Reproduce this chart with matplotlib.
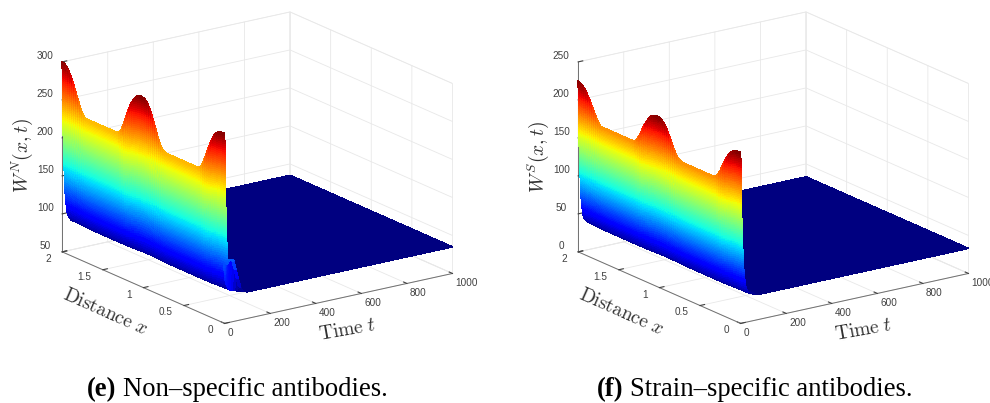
#!/usr/bin/env python
# coding: utf-8

import numpy as np
import matplotlib
matplotlib.use('Agg')
import matplotlib.pyplot as plt
from matplotlib.patches import Rectangle
from mpl_toolkits.mplot3d import Axes3D  # noqa: F401

plt.rcParams['font.family'] = ['Liberation Sans', 'DejaVu Sans']
plt.rcParams['mathtext.fontset'] = 'cm'
plt.rcParams['grid.color'] = '#e8e8e8'
plt.rcParams['grid.linewidth'] = 0.6
plt.rcParams['axes.linewidth'] = 0.6

# 空间节点 x (0 -> 2)
x_nodes = [0.000, 0.025, 0.050, 0.075, 0.100, 0.125, 0.150, 0.175, 0.200, 0.225, 0.250, 0.275,
           0.300, 0.325, 0.350, 0.375, 0.400, 0.425, 0.450, 0.475, 0.500, 0.525, 0.550, 0.575,
           0.600, 0.625, 0.650, 0.675, 0.700, 0.725, 0.750, 0.775, 0.800, 0.825, 0.850, 0.875,
           0.900, 0.925, 0.950, 0.975, 1.000, 1.025, 1.050, 1.075, 1.100, 1.125, 1.150, 1.175,
           1.200, 1.225, 1.250, 1.275, 1.300, 1.325, 1.350, 1.375, 1.400, 1.425, 1.450, 1.475,
           1.500, 1.525, 1.550, 1.575, 1.600, 1.625, 1.650, 1.675, 1.700, 1.725, 1.750, 1.775,
           1.800, 1.825, 1.850, 1.875, 1.900, 1.925, 1.950, 1.975, 2.000]
# t=0 时的剖面
profile_n = ([300, 300, 299.5, 298.5, 296, 292.5, 287, 280, 272, 263.5, 255, 247, 242, 240.5]
             + [240] * 15
             + [240.5, 242, 245, 250, 258, 267, 275, 283, 290, 295, 298.5, 300, 300.5, 300, 298.5,
                295.5, 291.5, 286, 279, 271, 262, 252, 245, 240.5, 239.5]
             + [239] * 15
             + [240, 244, 250, 258, 266, 274, 281.5, 288, 293, 297, 299.5, 300])
profile_s = ([225, 225, 224.5, 223.5, 222, 219, 215, 210, 203.5, 197, 190, 184, 180.5, 179]
             + [178] * 15
             + [178.5, 180, 182, 186, 192, 199, 205, 211, 216, 220, 222.5, 224, 224.5, 224, 223,
                221, 218, 213, 208, 202, 195, 188, 183, 179.5, 178.5]
             + [178] * 15
             + [178.5, 182, 187, 193, 199, 205, 210.5, 215, 219, 222, 224, 225])
plane_n = 85
plane_s = 33

# 时间节点和壁面高度比例
t_rows = [0, 0.125, 0.25, 0.375, 0.5, 0.625, 0.75, 0.875, 1.0, 1.125, 1.25, 1.375, 1.5, 1.625,
          1.75, 1.875, 2.0, 2.125, 2.25, 2.375, 2.5, 2.625, 2.75, 2.875, 3.0, 3.125, 3.25,
          3.375, 3.5, 3.625, 3.75, 3.875, 4.0,
          4.19, 4.38, 4.56, 4.75, 4.94, 5.13, 5.31, 5.5,
          5.75, 6, 6.25, 6.5, 6.75, 7, 7.25, 7.5,
          7.81, 8.13, 8.44, 8.75, 9.06, 9.38, 9.69, 10,
          10.5, 11, 11.5, 12, 12.5, 13, 13.5, 14, 15, 16, 17, 18, 19, 20, 22, 24, 27, 30, 35,
          40, 50, 60, 70, 80, 100, 300, 600, 1000]
wall_frac = [1.0, 0.9875, 0.975, 0.9625, 0.95, 0.9375, 0.925, 0.9125, 0.9, 0.8875, 0.875, 0.8625,
             0.85, 0.8375, 0.825, 0.8125, 0.8, 0.7875, 0.775, 0.7625, 0.75, 0.7375, 0.725, 0.7125,
             0.7, 0.6875, 0.675, 0.6625, 0.65, 0.6375, 0.625, 0.6125, 0.6,
             0.5875, 0.575, 0.5625, 0.55, 0.5375, 0.525, 0.5125, 0.5,
             0.4875, 0.475, 0.4625, 0.45, 0.4375, 0.425, 0.4125, 0.4,
             0.3875, 0.375, 0.3625, 0.35, 0.3375, 0.325, 0.3125, 0.3,
             0.285, 0.27, 0.255, 0.24, 0.225, 0.21, 0.195, 0.18, 0.165, 0.15, 0.135, 0.12, 0.105,
             0.09, 0.075, 0.06, 0.05, 0.04, 0.03,
             0.02, 0.015, 0.01, 0.005, 0, 0, 0, 0, 0]

# 左图 x=0 处的小突起
ridge_t = [14, 15, 16, 17, 18, 19, 20, 22, 24, 27, 30, 35, 40, 50, 60, 70, 80]
ridge_z = [133, 133, 132, 132, 132, 131, 131, 131, 131, 131, 131, 130, 130, 118, 105, 93, 87]

x_ticks = [0, 0.5, 1, 1.5, 2]
x_ticklabels = ['0', '0.5', '1', '1.5', '2']
t_ticks = [0, 200, 400, 600, 800, 1000]
z_ticks_n = [50, 100, 150, 200, 250, 300]
z_ticks_s = [0, 50, 100, 150, 200, 250]


def px_rect(left, top, size):
    # 像素坐标转为 figure 坐标
    return [left / 990, (403 - top - size) / 403, size / 990, size / 403]


def draw_panel(rect, profile, plane, z_ticks, zlabel, zlabel_pos, xlabel_pos, tlabel_pos, ridge=False):
    ax = fig.add_axes(rect, projection='3d', proj_type='ortho')
    ax.view_init(elev=18.1, azim=-125.2)
    ax.set_box_aspect((279, 282, 200))
    X, T = np.meshgrid(x_nodes, t_rows)
    frac = np.array(wall_frac)
    prof = np.array(profile, dtype=float)
    Z = plane + np.outer(frac, prof - plane)
    if ridge:
        for t_val, z_val in zip(ridge_t, ridge_z):
            Z[t_rows.index(t_val), :2] = z_val
    surf = ax.plot_surface(T, X, Z, cmap='jet', vmin=plane, vmax=max(profile), rstride=1, cstride=1,
                           linewidth=0, antialiased=False, shade=False)
    surf.set_edgecolor('face')
    surf.set_linewidth(0.4)
    ax.set_xlim(0, 1000, view_margin=0)
    ax.set_ylim(0, 2, view_margin=0)
    ax.set_zlim(z_ticks[0], z_ticks[-1], view_margin=0)
    ax.set_xticks(t_ticks)
    ax.set_yticks(x_ticks, x_ticklabels)
    ax.set_zticks(z_ticks)
    ax.tick_params(labelsize=7.2, colors='#404040', length=2)
    ax.xaxis.set_tick_params(pad=-5)
    ax.yaxis.set_tick_params(pad=0)
    ax.zaxis.set_tick_params(pad=-1)
    for lab in ax.get_xticklabels():
        lab.set_ha('left')
    for lab in ax.get_yticklabels():
        lab.set_ha('right')
        lab.set_va('bottom')
    for lab in ax.get_zticklabels():
        lab.set_va('bottom')
    for axis in (ax.xaxis, ax.yaxis, ax.zaxis):
        axis.set_pane_color((1, 1, 1, 1))
        axis.pane.set_edgecolor('#ececec')
        axis.pane.set_linewidth(0.5)
        axis.line.set_color('#707070')
        axis.line.set_linewidth(0.7)
        axis._axinfo['tick']['outward_factor'] = 0.25
        axis._axinfo['tick']['inward_factor'] = 0.0
    fig.text(xlabel_pos[0] / 990, 1 - xlabel_pos[1] / 403, r'$\mathrm{Distance}\ x$', fontsize=14,
             rotation=-24, color='#303030', ha='center', va='center')
    fig.text(tlabel_pos[0] / 990, 1 - tlabel_pos[1] / 403, r'$\mathrm{Time}\ t$', fontsize=14,
             rotation=10, color='#303030', ha='center', va='center')
    fig.text(zlabel_pos[0] / 990, 1 - zlabel_pos[1] / 403, zlabel, fontsize=14,
             rotation=90, color='#303030', ha='center', va='center')
    return ax


fig = plt.figure(figsize=(9.9, 4.03), dpi=100)
ax1 = draw_panel(px_rect(36, -42, 431), profile_n, plane_n, z_ticks_n, r'$W^N(x,t)$',
                 (22, 155), (105, 312), (348, 330), ridge=True)
ax2 = draw_panel(px_rect(552, -42, 431), profile_s, plane_s, z_ticks_s, r'$W^S(x,t)$',
                 (538, 157), (621, 312), (864, 330))

# 左图右侧 1000 标签被裁切
fig.add_artist(Rectangle((480 / 990, 0), 15 / 990, 1, transform=fig.transFigure,
                         facecolor='white', edgecolor='none', zorder=10))

# 图注
cap = dict(family='Liberation Serif', fontsize=19.2, va='baseline', color='black')
fig.text(87 / 990, 1 - 396.5 / 403, '(e)', fontweight='bold', **cap)
fig.text(123 / 990, 1 - 396.5 / 403, 'Non–specific antibodies.', **cap)
fig.text(597 / 990, 1 - 396.5 / 403, '(f)', fontweight='bold', **cap)
fig.text(630 / 990, 1 - 396.5 / 403, 'Strain–specific antibodies.', **cap)

fig.savefig('out.png', dpi=100)
